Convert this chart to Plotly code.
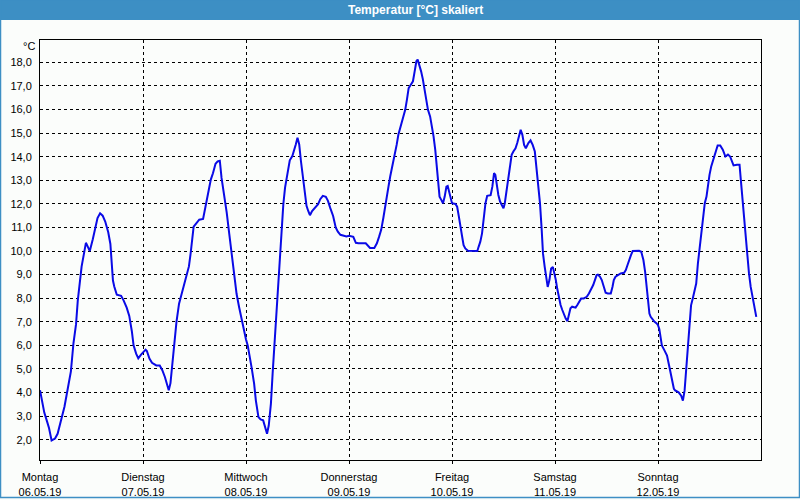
import pandas as pd
import plotly.graph_objects as go

# hours since Montag 06.05.19 00:00 and temperature [°C], read per day
mon_h = [0, 0.6, 1.0, 1.6, 2.1, 2.7, 3.5, 4.1, 4.9, 5.7, 6.4, 7.2, 7.8, 8.4, 8.8, 9.3, 9.7, 10.2, 10.7, 11.1,
         11.6, 12.3, 12.9, 13.4, 14.0, 14.6, 15.2, 15.9, 16.4, 16.7, 17.0, 17.3, 17.9, 18.9, 19.5, 20.2, 20.8,
         21.4, 21.8, 22.4, 22.9, 23.5]
mon_t = [4.1, 3.5, 3.15, 2.8, 2.5, 1.97, 2.05, 2.25, 2.8, 3.4, 4.1, 4.9, 6.1, 6.9, 7.9, 8.8, 9.35, 9.85, 10.35, 10.2,
         10.0, 10.5, 11.05, 11.4, 11.6, 11.5, 11.25, 10.8, 10.3, 9.6, 8.75, 8.5, 8.15, 8.1, 7.9, 7.6, 7.25,
         6.6, 6.0, 5.65, 5.45, 5.6]

tue_h = [24.0, 24.6, 24.9, 25.5, 26.1, 27.1, 27.9, 28.5, 29.1, 29.6, 30.0, 30.4, 30.8, 31.3, 31.8, 32.4, 33.0,
         33.6, 34.1, 34.7, 35.1, 35.5, 35.8, 36.5, 37.1, 38.0, 38.4, 38.8, 39.3, 39.8, 40.3, 40.9, 41.4, 41.9,
         42.3, 42.9, 43.5, 44.1, 44.7, 45.2, 45.8, 46.4, 47.0, 47.6]
tue_t = [5.72, 5.82, 5.76, 5.44, 5.26, 5.15, 5.15, 4.95, 4.66, 4.3, 4.1, 4.4, 5.1, 6.2, 7.0, 7.77, 8.2,
         8.6, 8.96, 9.35, 9.9, 10.6, 11.04, 11.2, 11.33, 11.36, 11.7, 12.1, 12.6, 13.03, 13.3, 13.7, 13.8, 13.83,
         13.1, 12.4, 11.64, 10.73, 9.88, 9.04, 8.19, 7.62, 7.06, 6.57]

wed_h = [48.0, 48.4, 48.8, 49.3, 49.9, 50.3, 50.9, 51.4, 52.0, 52.5, 52.9, 53.3, 53.8, 54.2, 54.7, 55.1, 55.6,
         55.9, 56.3, 56.7, 57.1, 57.7, 58.2, 58.8, 59.2, 59.6, 60.0, 60.4, 60.8, 61.2, 61.6, 62.1, 62.5, 62.9,
         63.4, 64.0, 64.8, 65.3, 65.9, 66.6, 67.1, 67.6, 68.3, 68.9, 69.4, 70.0, 70.8, 71.4]
wed_t = [6.25, 6.0, 5.64, 5.07, 4.37, 3.66, 2.96, 2.86, 2.82, 2.54, 2.25, 2.6, 3.52, 4.79, 6.2, 7.61, 9.02,
         9.87, 11.0, 11.99, 12.69, 13.4, 13.85, 14.03, 14.24, 14.52, 14.8, 14.52, 13.82, 13.18, 12.55, 11.92, 11.7, 11.52,
         11.7, 11.84, 11.99, 12.2, 12.34, 12.3, 12.13, 11.84, 11.49, 11.0, 10.82, 10.69, 10.65, 10.62]

thu_h = [72.0, 73.0, 73.6, 74.2, 75.9, 76.6, 76.9, 77.9, 78.5, 79.0, 79.5, 80.0, 80.4, 80.8, 81.2, 81.6, 82.0,
         82.4, 82.8, 83.1, 83.5, 83.9, 84.3, 84.7, 85.1, 85.5, 85.9, 86.4, 86.9, 87.3, 87.7, 88.0, 88.4, 88.8,
         89.2, 89.6, 89.9, 90.4, 90.9, 91.3, 91.7, 92.1, 92.4, 92.7, 93.1, 93.5, 93.9, 94.3, 94.7, 95.0, 95.4, 95.8]
thu_t = [10.65, 10.6, 10.35, 10.33, 10.33, 10.18, 10.13, 10.13, 10.33, 10.6, 10.9, 11.4, 11.9, 12.3, 12.73, 13.16, 13.51,
         13.8, 14.15, 14.5, 14.93, 15.21, 15.5, 15.71, 15.99, 16.42, 16.91, 17.05, 17.2, 17.62, 18.05, 18.12, 17.9, 17.62,
         17.29, 16.91, 16.49, 15.99, 15.71, 15.35, 14.86, 14.29, 13.65, 12.95, 12.31, 12.17, 12.03, 12.31, 12.73, 12.76, 12.45, 12.1]

fri_h = [96.0, 96.8, 97.2, 97.6, 97.9, 98.3, 98.7, 99.1, 99.7, 101.9, 102.2, 102.6, 103.0, 103.4, 103.8, 104.2,
         105.0, 105.4, 105.8, 106.1, 106.4, 106.8, 107.2, 107.6, 108.0, 108.3, 108.7, 109.1, 109.5, 109.9, 110.3,
         110.8, 111.2, 111.6, 112.0, 112.4, 112.8, 113.2, 113.8, 114.3, 114.8, 115.3, 115.7, 116.1, 116.5, 116.9,
         117.2, 117.6, 118.0, 118.3, 118.7, 119.1, 119.5, 119.9]
fri_t = [12.03, 12.0, 11.88, 11.46, 11.03, 10.68, 10.25, 10.11, 10.01, 10.0, 10.18, 10.4, 10.75, 11.32, 12.03, 12.34,
         12.37, 12.73, 13.3, 13.23, 12.8, 12.38, 12.1, 11.95, 11.81, 12.03, 12.52, 13.02, 13.58, 14.08, 14.22,
         14.36, 14.58, 14.86, 15.14, 14.93, 14.5, 14.36, 14.58, 14.69, 14.5, 14.22, 13.44, 12.73, 12.03, 10.9,
         9.9, 9.33, 8.91, 8.48, 8.77, 9.26, 9.33, 9.05]

sat_h = [120.2, 120.5, 120.9, 121.3, 121.7, 122.1, 122.5, 122.9, 123.2, 123.6, 124.0, 124.8, 125.2, 125.6, 126.1,
         126.7, 127.4, 127.9, 128.4, 128.9, 129.3, 129.7, 130.0, 130.5, 130.9, 131.2, 131.8, 132.3, 133.0, 133.4,
         133.7, 134.1, 134.8, 135.3, 136.1, 136.5, 136.9, 137.3, 137.7, 138.1, 138.8, 139.6, 140.1, 140.6, 141.0,
         141.3, 141.7, 142.0, 142.3, 142.7, 143.2, 143.7]
sat_t = [8.77, 8.42, 7.99, 7.71, 7.5, 7.28, 7.14, 7.03, 7.24, 7.57, 7.64, 7.6, 7.71, 7.85, 7.99,
         7.99, 8.06, 8.2, 8.35, 8.56, 8.77, 8.98, 9.0, 8.91, 8.77, 8.56, 8.23, 8.2, 8.2, 8.49,
         8.77, 8.91, 8.98, 9.05, 9.08, 9.19, 9.41, 9.65, 9.83, 10.0, 10.01, 10.01, 9.97, 9.62, 9.12,
         8.49, 7.92, 7.35, 7.21, 7.1, 7.0, 6.93]

sun_h = [144.0, 144.3, 144.6, 144.9, 145.5, 146.1, 146.5, 146.9, 147.3, 147.7, 148.0, 148.8, 149.4, 149.8, 150.2,
         150.6, 151.0, 151.4, 151.7, 152.1, 152.5, 152.9, 153.3, 153.7, 154.1, 154.5, 154.9, 155.3, 155.6, 156.0,
         156.4, 157.0, 157.4, 157.9, 158.5, 159.1, 159.7, 160.3, 160.8, 161.2, 161.6, 162.4, 163.0, 163.3, 163.7,
         164.1, 164.5, 164.8, 165.2, 165.6, 166.1, 166.5, 166.9]
sun_t = [6.86, 6.7, 6.35, 6.0, 5.79, 5.57, 5.22, 4.87, 4.51, 4.16, 4.09, 4.01, 3.87, 3.66, 4.09,
         5.08, 6.21, 7.21, 7.7, 7.99, 8.27, 8.62, 9.48, 10.18, 10.89, 11.6, 12.03, 12.31, 12.74, 13.23,
         13.59, 13.94, 14.16, 14.48, 14.48, 14.3, 14.01, 14.09, 14.01, 13.8, 13.63, 13.66, 13.66, 13.02, 12.17,
         11.18, 10.33, 9.62, 9.05, 8.48, 7.99, 7.63, 7.21]

day_names = ["Montag", "Dienstag", "Mittwoch", "Donnerstag", "Freitag", "Samstag", "Sonntag"]
day_dates = ["06.05.19", "07.05.19", "08.05.19", "09.05.19", "10.05.19", "11.05.19", "12.05.19"]
y_ticks = [2, 3, 4, 5, 6, 7, 8, 9, 10, 11, 12, 13, 14, 15, 16, 17, 18]

hours = mon_h + tue_h + wed_h + thu_h + fri_h + sat_h + sun_h
temps = mon_t + tue_t + wed_t + thu_t + fri_t + sat_t + sun_t

start = pd.Timestamp("2019-05-06 00:00")
times = [start + pd.Timedelta(hours=h) for h in hours]
day_ticks = [start + pd.Timedelta(days=i) for i in range(len(day_names))]
tick_text = [f"{n}<br>{d}" for n, d in zip(day_names, day_dates)]

W, H = 800, 500
ML, MR, MT, MB = 40, 39, 40, 40
PW, PH = W - ML - MR, H - MT - MB


def px(x):
    return (x - ML) / PW


def py(y):
    return (H - MB - y) / PH


fig = go.Figure()
fig.add_trace(go.Scatter(x=times, y=temps, mode="lines",
                         line=dict(color="#0a0ae6", width=2), hoverinfo="skip"))

FONT = "Liberation Sans, Arial, sans-serif"
BG = "#fbfdfb"
BLUE = "#3d8fc4"

fig.update_layout(
    width=W, height=H,
    margin=dict(l=ML, r=MR, t=MT, b=MB, autoexpand=False),
    paper_bgcolor=BG, plot_bgcolor=BG,
    separators=",.",
    showlegend=False,
    font=dict(family=FONT, size=11, color="#000000"),
    xaxis=dict(
        range=[start, start + pd.Timedelta(days=7)],
        tickmode="array", tickvals=day_ticks, ticktext=tick_text,
        showgrid=True, gridcolor="#000000", gridwidth=1, griddash="3px,3px",
        showline=True, linecolor="#000000", linewidth=1, mirror=True,
        ticks="outside", ticklen=3, tickcolor="#000000",
        ticklabelstandoff=4, automargin=False,
        zeroline=False, fixedrange=True,
    ),
    yaxis=dict(
        range=[1.14, 18.95],
        tickmode="array", tickvals=y_ticks,
        tickformat=".1f",
        showgrid=True, gridcolor="#000000", gridwidth=1, griddash="3px,3px",
        showline=True, linecolor="#000000", linewidth=1, mirror=True,
        ticks="", ticklabelstandoff=5, automargin=False,
        zeroline=False, fixedrange=True,
    ),
    shapes=[
        dict(type="rect", xref="paper", yref="paper",
             x0=px(0), x1=px(800), y0=py(20), y1=py(0),
             fillcolor=BLUE, line=dict(width=0), layer="above"),
        dict(type="rect", xref="paper", yref="paper",
             x0=px(0.5), x1=px(799.5), y0=py(497.5), y1=py(0),
             fillcolor="rgba(0,0,0,0)", line=dict(color=BLUE, width=1.5), layer="above"),
    ],
    annotations=[
        dict(text="<b>Temperatur [°C] skaliert</b>", xref="paper", yref="paper",
             x=px(415), y=py(10), xanchor="center", yanchor="middle", showarrow=False,
             font=dict(family=FONT, size=12, color="#ffffff")),
        dict(text="°C", xref="paper", yref="paper",
             x=px(37), y=py(46), xanchor="right", yanchor="middle", showarrow=False,
             font=dict(family=FONT, size=11, color="#000000")),
    ],
)

fig.write_html("out.html")
